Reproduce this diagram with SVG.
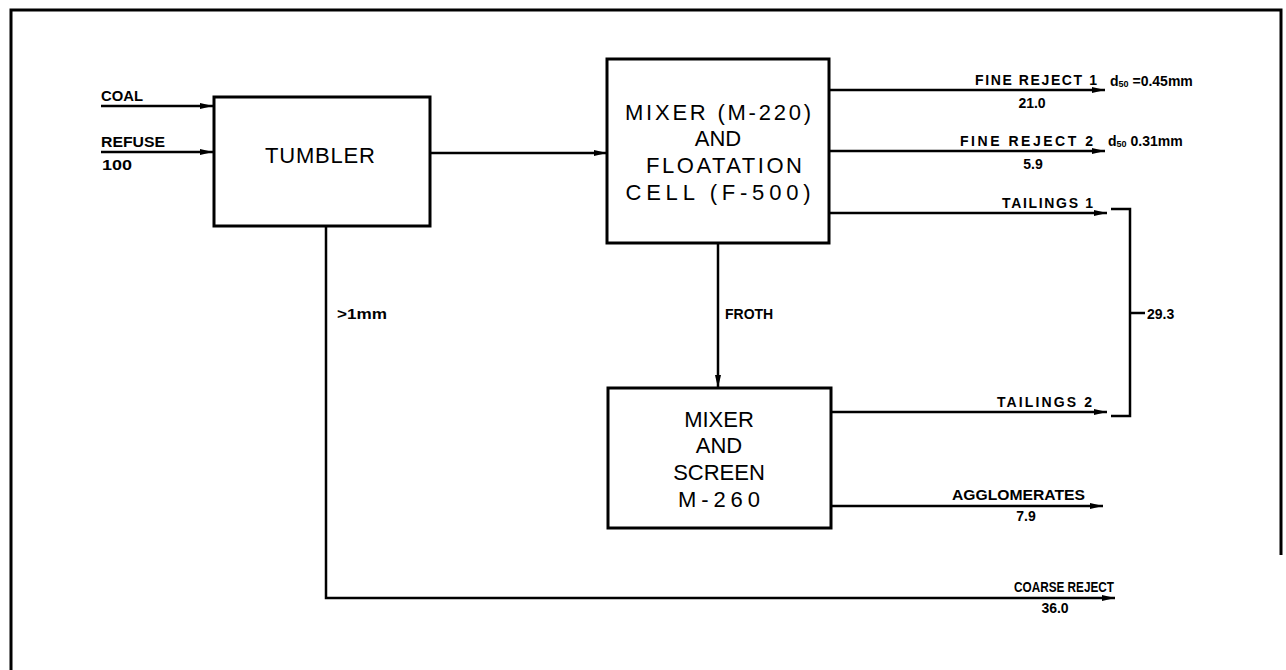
<svg xmlns="http://www.w3.org/2000/svg" width="1286" height="670" viewBox="0 0 1286 670">
<defs>
<style>
.frame{fill:none;stroke:#000;stroke-width:3}
.box{fill:#fff;stroke:#000;stroke-width:3}
.ln{fill:none;stroke:#000;stroke-width:2.5}
.arr{marker-end:url(#ah)}
.nt{font-family:"Liberation Sans",Arial,sans-serif;font-size:22px;fill:#000;text-anchor:middle}
.lb{font-family:"Liberation Sans",Arial,sans-serif;font-size:14px;font-weight:bold;fill:#000}
.c{text-anchor:middle}
.e{text-anchor:end}
</style>
<marker id="ah" markerUnits="userSpaceOnUse" markerWidth="14" markerHeight="8" refX="13" refY="3.5" orient="auto">
<path d="M0,0.5 L13,3.5 L0,6.5 Z" fill="#000"/>
</marker>
</defs>
<rect width="1286" height="670" fill="#fff"/>
<path class="frame" d="M11,670 V10 H1281 V555"/>

<g id="connectors">
<path class="ln arr" d="M101,106 H213"/>
<path class="ln arr" d="M101,152 H213"/>
<path class="ln arr" d="M430,153 H607"/>
<path class="ln arr" d="M829,90 H1105"/>
<path class="ln arr" d="M829,151 H1105"/>
<path class="ln arr" d="M829,213 H1107"/>
<path class="ln arr" d="M718,243 V388"/>
<path class="ln arr" d="M831,412 H1107"/>
<path class="ln arr" d="M831,506 H1103"/>
<path class="ln arr" d="M326,226 V598 H1115"/>
<path class="ln" d="M1111,209 H1130 V416 H1111"/>
<path class="ln" d="M1130,313 H1145"/>
</g>

<g id="labels">
<text class="lb" x="101" y="101" textLength="42" lengthAdjust="spacingAndGlyphs">COAL</text>
<text class="lb" x="101" y="147" textLength="64" lengthAdjust="spacingAndGlyphs">REFUSE</text>
<text class="lb" x="102" y="170" textLength="30" lengthAdjust="spacingAndGlyphs">100</text>
<text class="lb e" x="1097" y="85" textLength="122" lengthAdjust="spacing">FINE REJECT 1</text>
<text class="lb" x="1110" y="86">d<tspan font-size="9" dy="1">50</tspan><tspan dy="-1"> =0.45mm</tspan></text>
<text class="lb c" x="1032" y="108">21.0</text>
<text class="lb e" x="1093" y="146" textLength="133" lengthAdjust="spacing">FINE REJECT 2</text>
<text class="lb" x="1108" y="146">d<tspan font-size="9" dy="1">50</tspan><tspan dy="-1"> 0.31mm</tspan></text>
<text class="lb c" x="1033" y="169">5.9</text>
<text class="lb e" x="1093" y="208" textLength="91" lengthAdjust="spacing">TAILINGS 1</text>
<text class="lb e" x="1092" y="407" textLength="95" lengthAdjust="spacing">TAILINGS 2</text>
<text class="lb" x="1147" y="319">29.3</text>
<text class="lb" x="725" y="319">FROTH</text>
<text class="lb" x="337" y="319" textLength="50" lengthAdjust="spacingAndGlyphs">&gt;1mm</text>
<text class="lb" x="952" y="500" textLength="133" lengthAdjust="spacingAndGlyphs">AGGLOMERATES</text>
<text class="lb c" x="1026" y="521">7.9</text>
<text class="lb" x="1014" y="592" textLength="100" lengthAdjust="spacingAndGlyphs">COARSE REJECT</text>
<text class="lb c" x="1055" y="613">36.0</text>
</g>

<g id="tumbler">
<rect class="box" x="214" y="97" width="216" height="129"/>
<text class="nt" x="320" y="163" textLength="110" lengthAdjust="spacing">TUMBLER</text>
</g>

<g id="mixer-floatation">
<rect class="box" x="607" y="59" width="222" height="184"/>
<text class="nt" x="718" y="120" textLength="186" lengthAdjust="spacing">MIXER (M-220)</text>
<text class="nt" x="718" y="146">AND</text>
<text class="nt" x="724" y="173" textLength="156" lengthAdjust="spacing">FLOATATION</text>
<text class="nt" x="718" y="200" textLength="185" lengthAdjust="spacing">CELL (F-500)</text>
</g>

<g id="mixer-screen">
<rect class="box" x="608" y="388" width="223" height="140"/>
<text class="nt" x="719" y="427">MIXER</text>
<text class="nt" x="719" y="453">AND</text>
<text class="nt" x="719" y="480">SCREEN</text>
<text class="nt" x="719" y="507" textLength="82" lengthAdjust="spacing">M-260</text>
</g>
</svg>
